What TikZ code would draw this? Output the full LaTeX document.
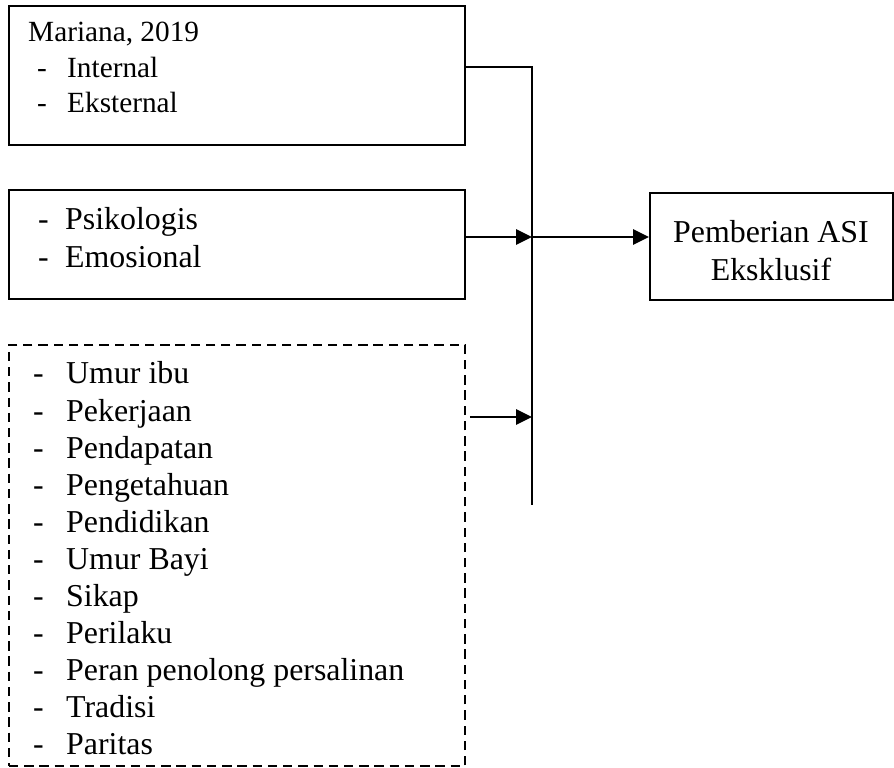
\documentclass[tikz,border=0pt]{standalone}
\usepackage{fontspec}
\setmainfont{Liberation Serif}
\usetikzlibrary{arrows.meta}

\begin{document}
\begin{tikzpicture}[x=0.03cm,y=-0.03cm,>={Triangle[length=0.48cm,width=0.46cm]}]
    \tikzset{box/.style={draw,line width=1.6pt,inner sep=0pt,anchor=north west,minimum width=13.68cm},
             txt/.style={inner sep=0pt,anchor=base west,font=\fontsize{27.2}{31.6}\selectfont},
             ar/.style={->,line width=1.5pt}}
    \useasboundingbox (0,0) rectangle (894,768);
    \node[box,minimum height=4.17cm] (mariana) at (8,5) {};
    \node[box,minimum height=3.27cm] (psiko) at (8,189) {};
    \node[box,minimum height=12.64cm,dash pattern=on 8pt off 5pt] (faktor) at (8,344) {};
    \node[box,minimum width=7.29cm,minimum height=3.21cm] (asi) at (649,192) {};
    \node[txt,font=\fontsize{25}{29.9}\selectfont] (marianatxt) at (28,42) {\begin{tabular}[t]{@{}p{1.17cm}@{}l@{}}
        \multicolumn{2}{@{}l@{}}{Mariana, 2019}\\
        \hspace*{0.27cm}- & Internal\\
        \hspace*{0.27cm}- & Eksternal\end{tabular}};
    \node[txt] (psikotxt) at (38,230) {\begin{tabular}[t]{@{}p{0.81cm}@{}l@{}}
        - & Psikologis\\
        - & Emosional\end{tabular}};
    \node[txt] (faktortxt) at (33,384) {\begin{tabular}[t]{@{}p{0.99cm}@{}l@{}}
        - & Umur ibu\\
        - & Pekerjaan\\
        - & Pendapatan\\
        - & Pengetahuan\\
        - & Pendidikan\\
        - & Umur Bayi\\
        - & Sikap\\
        - & Perilaku\\
        - & Peran penolong persalinan\\
        - & Tradisi\\
        - & Paritas\end{tabular}};
    \node[txt,anchor=base] (asitxt) at (771,243) {\begin{tabular}[t]{@{}c@{}}Pemberian ASI\\Eksklusif\end{tabular}};
    \coordinate (top) at (532,67);
    \coordinate (bot) at (532,505);
    \coordinate (mid) at (532,237);
    \coordinate (low) at (532,417);
    \draw[line width=1.5pt] (mariana.east |- top) -- (top) -- (bot);
    \draw[ar] (psiko.east |- mid) -- (mid);
    \draw[ar] (mid) -- (asi.west |- mid);
    \draw[ar,shorten <=0.12cm] (faktor.east |- low) -- (low);
\end{tikzpicture}
\end{document}
